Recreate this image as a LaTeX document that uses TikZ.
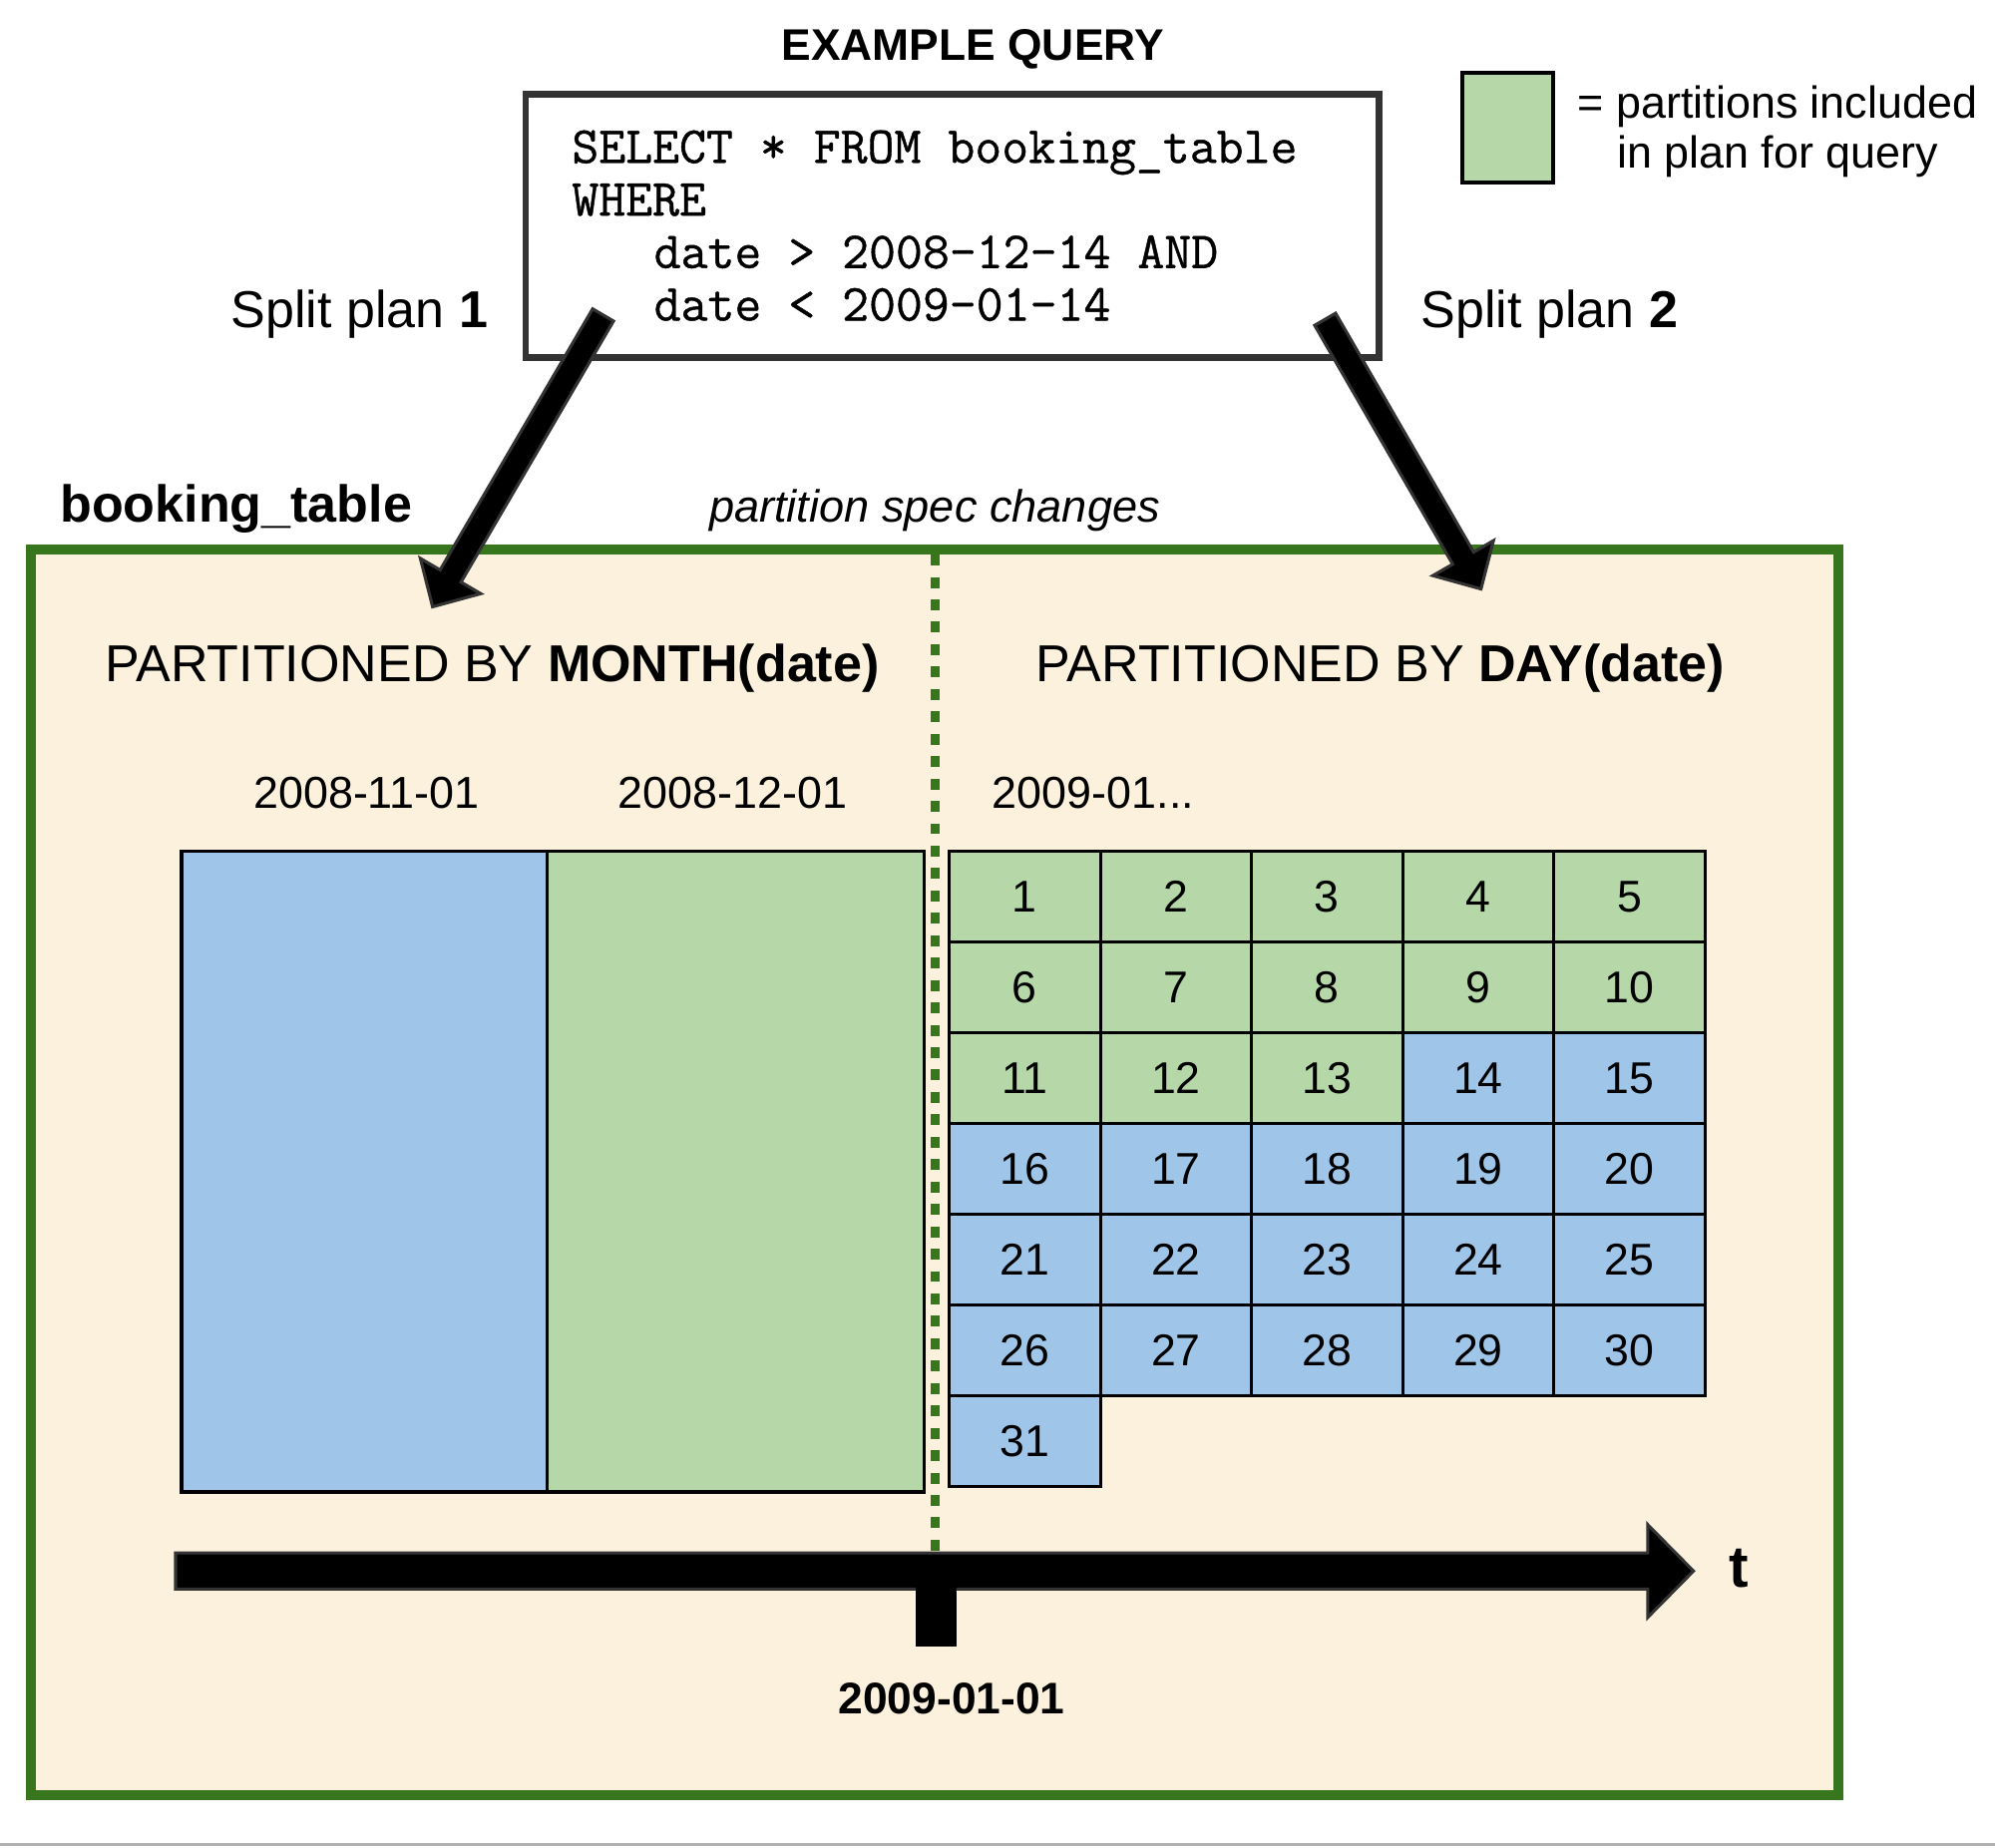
\documentclass[tikz,border=0pt]{standalone}
\usepackage{fontspec}
\setmainfont{Liberation Sans}
\newfontfamily\codefont[FakeBold=0.8]{Latin Modern Mono}
\usetikzlibrary{calc}
\definecolor{framegreen}{HTML}{38761D}
\definecolor{cream}{HTML}{FBF1DC}
\definecolor{partblue}{HTML}{9FC5E8}
\definecolor{partgreen}{HTML}{B6D7A8}
\definecolor{outlinegray}{HTML}{333333}
\tikzset{
  txt/.style={inner sep=0pt, outer sep=0pt},
  bigtxt/.style={txt, font=\fontsize{20.4pt}{24pt}\selectfont},
  bigbold/.style={txt, font=\fontsize{20.4pt}{24pt}\selectfont\bfseries},
  midtxt/.style={txt, font=\fontsize{17.6pt}{21pt}\selectfont},
  midbold/.style={txt, font=\fontsize{17.4pt}{21pt}\selectfont\bfseries},
  midital/.style={txt, font=\fontsize{17.7pt}{21pt}\selectfont\itshape},
  codetxt/.style={txt, anchor=base west, font=\codefont\fontsize{20.5pt}{24pt}\selectfont},
  box/.style={inner sep=0pt, outer sep=0pt, anchor=north west},
  cell/.style={box, draw=black, line width=1.2pt, minimum width=59.4pt, minimum height=35.65pt,
    font=\fontsize{17.5pt}{21pt}\selectfont},
  monthbox/.style={box, draw=black, line width=1.4pt},
  blockarrow/.style={fill=black, draw=outlinegray, line width=1.2pt, line join=miter},
}
% #1 prefix, #2 tail, #3 tip, #4 half shaft width, #5 head length, #6 half head width
\newcommand\blockarr[6]{%
  \coordinate (#1base) at ($(#3)!#5!(#2)$);
  \filldraw[blockarrow] ($(#2)!#4!90:(#3)$) -- ($(#1base)!#4!90:(#3)$)
    -- ($(#1base)!#6!90:(#3)$) -- (#3) -- ($(#1base)!#6!-90:(#3)$)
    -- ($(#1base)!#4!-90:(#3)$) -- ($(#2)!#4!-90:(#3)$) -- cycle;
}
\begin{document}
\begin{tikzpicture}[x=0.5pt, y=-0.5pt]
\useasboundingbox (0,0) rectangle (1568,1452);
\fill[white] (0,0) rectangle (1568,1452);
\draw[black!30, line width=1pt] (0,1450) -- (1568,1450);

% outer table frame
\node[box, draw=framegreen, fill=cream, line width=4pt, minimum width=710.5pt,
      minimum height=489.5pt] (frame) at (24,432) {};

% month partitions
\node[monthbox, fill=partblue, minimum width=143.75pt, minimum height=252pt] (nov) at (142.5,669) {};
\node[monthbox, fill=partgreen, minimum width=148.25pt, minimum height=252pt] (dec) at (430,669) {};

% day partitions
\foreach \n in {1,...,31}{
  \pgfmathtruncatemacro\r{int((\n-1)/5)}
  \pgfmathtruncatemacro\c{mod(\n-1,5)}
  \ifnum\n<14 \def\cfill{partgreen}\else\def\cfill{partblue}\fi
  \node[cell, fill=\cfill] (d\n) at ({746+\c*118.8},{669.2+\r*71.3}) {\n};
}

% partition spec change divider
\coordinate (divtop) at (735,436);
\coordinate (divbot) at (735,1220);
\draw[framegreen, line width=3.5pt, dash pattern=on 4.3pt off 4.5pt] (divtop) -- (divbot);

% timeline
\coordinate (tl0) at (138,1235);
\coordinate (tl1) at (1331,1235);
\blockarr{tl}{tl0}{tl1}{7.1pt}{18pt}{18.25pt}
\fill[black] (719.5,1244) rectangle (751.5,1294);

% texts inside frame
\node[bigtxt, anchor=base] (monthlbl) at (387,536) {PARTITIONED BY \textbf{MONTH(date)}};
\node[bigtxt, anchor=base] (daylbl) at (1085,536) {PARTITIONED BY \textbf{DAY(date)}};
\node[midtxt, anchor=base] (novlbl) at (288,635.6) {2008-11-01};
\node[midtxt, anchor=base] (declbl) at (576,635.6) {2008-12-01};
\node[midtxt, anchor=base west] (janlbl) at (780,635.6) {2009-01...};
\node[midbold, anchor=base] (changedate) at (748,1347) {2009-01-01};
\node[txt, anchor=base west, font=\fontsize{23pt}{26pt}\selectfont\bfseries] (tlbl) at (1359,1248) {t};

% labels above frame
\node[bigbold, anchor=base west] (tablelbl) at (47.3,410.3) {booking\_table};
\node[midital, anchor=base west] (speclbl) at (557.5,410.3) {partition spec changes};

% query
\node[midbold, anchor=base] (title) at (764.5,47.8) {EXAMPLE QUERY};
\node[box, draw=outlinegray, fill=white, line width=2.5pt, minimum width=335.5pt,
      minimum height=103.5pt] (query) at (413,74) {};
\node[codetxt] (q1) at (449.5,128) {SELECT * FROM booking\_table};
\node[codetxt] (q2) at (449.5,169.4) {WHERE};
\node[codetxt] (q3) at (514,210.7) {date > 2008-12-14 AND};
\node[codetxt] (q4) at (514,252) {date < 2009-01-14};

% legend
\node[box, draw=black, fill=partgreen, line width=1.5pt, minimum width=35.5pt,
      minimum height=43pt] (legbox) at (1149.5,57.5) {};
\node[midtxt, anchor=base west] (leg1) at (1240,92.8) {= partitions included};
\node[midtxt, anchor=base west] (leg2) at (1271,132) {in plan for query};

% split plan labels
\node[bigtxt, anchor=base east] (sp1) at (383.5,257.4) {Split plan \textbf{1}};
\node[bigtxt, anchor=base west] (sp2) at (1117,257.4) {Split plan \textbf{2}};

% split plan arrows
\coordinate (a1tail) at (474,247.6);
\coordinate (a1tip) at (340,477);
\blockarr{aa}{a1tail}{a1tip}{4.75pt}{14pt}{13.75pt}
\coordinate (a2tail) at (1041.5,251);
\coordinate (a2tip) at (1164,463);
\blockarr{ab}{a2tail}{a2tip}{4.75pt}{14pt}{13.75pt}
\end{tikzpicture}
\end{document}
